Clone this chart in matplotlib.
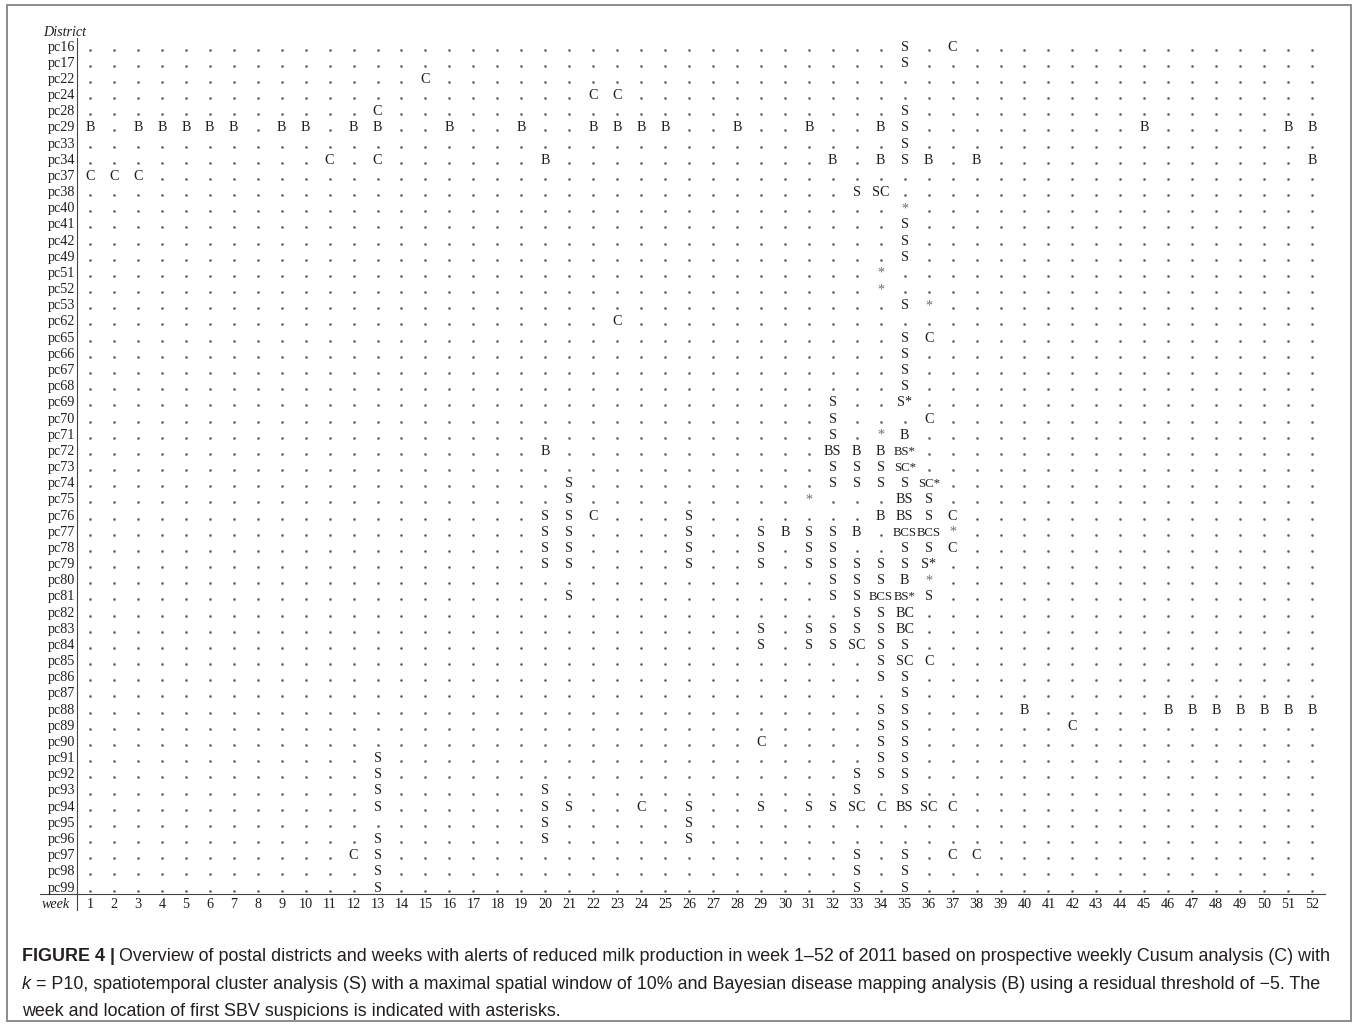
import matplotlib
matplotlib.use("Agg")
import matplotlib.pyplot as plt
from matplotlib.patches import Rectangle

# ---------------- data ----------------
districts = ["pc16", "pc17", "pc22", "pc24", "pc28", "pc29", "pc33", "pc34", "pc37", "pc38",
             "pc40", "pc41", "pc42", "pc49", "pc51", "pc52", "pc53", "pc62", "pc65", "pc66",
             "pc67", "pc68", "pc69", "pc70", "pc71", "pc72", "pc73", "pc74", "pc75", "pc76",
             "pc77", "pc78", "pc79", "pc80", "pc81", "pc82", "pc83", "pc84", "pc85", "pc86",
             "pc87", "pc88", "pc89", "pc90", "pc91", "pc92", "pc93", "pc94", "pc95", "pc96",
             "pc97", "pc98", "pc99"]
weeks = list(range(1, 53))

# alerts: one entry per labelled cell (district, week, label)
alert_district = [
    "pc16", "pc16",
    "pc17",
    "pc22",
    "pc24", "pc24",
    "pc28", "pc28",
    "pc29", "pc29", "pc29", "pc29", "pc29", "pc29", "pc29", "pc29", "pc29", "pc29", "pc29", "pc29",
    "pc29", "pc29", "pc29", "pc29", "pc29", "pc29", "pc29", "pc29", "pc29", "pc29", "pc29",
    "pc33",
    "pc34", "pc34", "pc34", "pc34", "pc34", "pc34", "pc34", "pc34", "pc34",
    "pc37", "pc37", "pc37",
    "pc38", "pc38",
    "pc40",
    "pc41",
    "pc42",
    "pc49",
    "pc51",
    "pc52",
    "pc53", "pc53",
    "pc62",
    "pc65", "pc65",
    "pc66",
    "pc67",
    "pc68",
    "pc69", "pc69",
    "pc70", "pc70",
    "pc71", "pc71", "pc71",
    "pc72", "pc72", "pc72", "pc72", "pc72",
    "pc73", "pc73", "pc73", "pc73",
    "pc74", "pc74", "pc74", "pc74", "pc74", "pc74",
    "pc75", "pc75", "pc75", "pc75",
    "pc76", "pc76", "pc76", "pc76", "pc76", "pc76", "pc76", "pc76",
    "pc77", "pc77", "pc77", "pc77", "pc77", "pc77", "pc77", "pc77", "pc77", "pc77", "pc77",
    "pc78", "pc78", "pc78", "pc78", "pc78", "pc78", "pc78", "pc78", "pc78",
    "pc79", "pc79", "pc79", "pc79", "pc79", "pc79", "pc79", "pc79", "pc79", "pc79",
    "pc80", "pc80", "pc80", "pc80", "pc80",
    "pc81", "pc81", "pc81", "pc81", "pc81", "pc81",
    "pc82", "pc82", "pc82",
    "pc83", "pc83", "pc83", "pc83", "pc83", "pc83",
    "pc84", "pc84", "pc84", "pc84", "pc84", "pc84",
    "pc85", "pc85", "pc85",
    "pc86", "pc86",
    "pc87",
    "pc88", "pc88", "pc88", "pc88", "pc88", "pc88", "pc88", "pc88", "pc88", "pc88",
    "pc89", "pc89", "pc89",
    "pc90", "pc90", "pc90",
    "pc91", "pc91", "pc91",
    "pc92", "pc92", "pc92", "pc92",
    "pc93", "pc93", "pc93", "pc93",
    "pc94", "pc94", "pc94", "pc94", "pc94", "pc94", "pc94", "pc94", "pc94", "pc94", "pc94", "pc94", "pc94",
    "pc95", "pc95",
    "pc96", "pc96", "pc96",
    "pc97", "pc97", "pc97", "pc97", "pc97", "pc97",
    "pc98", "pc98", "pc98",
    "pc99", "pc99", "pc99",
]
alert_week = [
    35, 37,
    35,
    15,
    22, 23,
    13, 35,
    1, 3, 4, 5, 6, 7, 9, 10, 12, 13, 16, 19,
    22, 23, 24, 25, 28, 31, 34, 35, 45, 51, 52,
    35,
    11, 13, 20, 32, 34, 35, 36, 38, 52,
    1, 2, 3,
    33, 34,
    35,
    35,
    35,
    35,
    34,
    34,
    35, 36,
    23,
    35, 36,
    35,
    35,
    35,
    32, 35,
    32, 36,
    32, 34, 35,
    20, 32, 33, 34, 35,
    32, 33, 34, 35,
    21, 32, 33, 34, 35, 36,
    21, 31, 35, 36,
    20, 21, 22, 26, 34, 35, 36, 37,
    20, 21, 26, 29, 30, 31, 32, 33, 35, 36, 37,
    20, 21, 26, 29, 31, 32, 35, 36, 37,
    20, 21, 26, 29, 31, 32, 33, 34, 35, 36,
    32, 33, 34, 35, 36,
    21, 32, 33, 34, 35, 36,
    33, 34, 35,
    29, 31, 32, 33, 34, 35,
    29, 31, 32, 33, 34, 35,
    34, 35, 36,
    34, 35,
    35,
    34, 35, 40, 46, 47, 48, 49, 50, 51, 52,
    34, 35, 42,
    29, 34, 35,
    13, 34, 35,
    13, 33, 34, 35,
    13, 20, 33, 35,
    13, 20, 21, 24, 26, 29, 31, 32, 33, 34, 35, 36, 37,
    20, 26,
    13, 20, 26,
    12, 13, 33, 35, 37, 38,
    13, 33, 35,
    13, 33, 35,
]
alert_label = [
    "S", "C",
    "S",
    "C",
    "C", "C",
    "C", "S",
    "B", "B", "B", "B", "B", "B", "B", "B", "B", "B", "B", "B",
    "B", "B", "B", "B", "B", "B", "B", "S", "B", "B", "B",
    "S",
    "C", "C", "B", "B", "B", "S", "B", "B", "B",
    "C", "C", "C",
    "S", "SC",
    "*",
    "S",
    "S",
    "S",
    "*",
    "*",
    "S", "*",
    "C",
    "S", "C",
    "S",
    "S",
    "S",
    "S", "S*",
    "S", "C",
    "S", "*", "B",
    "B", "BS", "B", "B", "BS*",
    "S", "S", "S", "SC*",
    "S", "S", "S", "S", "S", "SC*",
    "S", "*", "BS", "S",
    "S", "S", "C", "S", "B", "BS", "S", "C",
    "S", "S", "S", "S", "B", "S", "S", "B", "BCS", "BCS", "*",
    "S", "S", "S", "S", "S", "S", "S", "S", "C",
    "S", "S", "S", "S", "S", "S", "S", "S", "S", "S*",
    "S", "S", "S", "B", "*",
    "S", "S", "S", "BCS", "BS*", "S",
    "S", "S", "BC",
    "S", "S", "S", "S", "S", "BC",
    "S", "S", "S", "SC", "S", "S",
    "S", "SC", "C",
    "S", "S",
    "S",
    "S", "S", "B", "B", "B", "B", "B", "B", "B", "B",
    "S", "S", "C",
    "C", "S", "S",
    "S", "S", "S",
    "S", "S", "S", "S",
    "S", "S", "S", "S",
    "S", "S", "S", "C", "S", "S", "S", "S", "SC", "C", "BS", "SC", "C",
    "S", "S",
    "S", "S", "S",
    "C", "S", "S", "S", "C", "C",
    "S", "S", "S",
    "S", "S", "S",
]
assert len(alert_district) == len(alert_week) == len(alert_label)

caption_bold = "FIGURE 4 |"
caption_line1 = ("Overview of postal districts and weeks with alerts of reduced milk production in "
                 "week 1\u201352 of 2011 based on prospective weekly Cusum analysis (C) with")
caption_line2 = (" = P10, spatiotemporal cluster analysis (S) with a maximal spatial window of 10% and "
                 "Bayesian disease mapping analysis (B) using a residual threshold of \u22125. The")
caption_line3 = "week and location of first SBV suspicions is indicated with asterisks."

# ---------------- figure ----------------
W, H = 1357, 1027
fig = plt.figure(figsize=(W / 100, H / 100), dpi=100)
fig.patch.set_facecolor("white")


def fx(px):
    return px / W


def fy(py):
    return 1 - py / H


# outer frame
fig.add_artist(Rectangle((fx(7), fy(1021)), fx(1351) - fx(7), fy(5) - fy(1021),
                         fill=False, ec="#8c8c8c", lw=1.4, transform=fig.transFigure))

SERIF = "Liberation Serif"
SANS = "Liberation Sans"
FS = 10.2
FS_LONG = 9.2   # three-character cells set a little tighter so neighbours just touch
TXT = "#1e1e1e"

ax = fig.add_axes([fx(77), fy(894), (1325 - 77) / W, (894 - 38) / H])
ax.set_xlim(0.4575, 52.542)
ax.set_ylim(52.433, -0.4947)
ax.axis("off")

row_of = {d: i for i, d in enumerate(districts)}
BASE = 0.28  # baseline offset (rows) below row centre

labelled = set()
for d, w, lab in zip(alert_district, alert_week, alert_label):
    r = row_of[d]
    labelled.add((r, w))
    col = "#6e6e6e" if lab == "*" else TXT
    fs = FS_LONG if len(lab) >= 3 else FS
    ax.text(w, r + BASE, lab, ha="center", va="baseline", fontsize=fs,
            family=SERIF, color=col, clip_on=False)

dot_x, dot_y = [], []
for r, d in enumerate(districts):
    for w in weeks:
        if (r, w) not in labelled:
            dot_x.append(w)
            dot_y.append(r + 0.22)
ax.scatter(dot_x, dot_y, s=3.4, c="#5a5a5a", linewidths=0, clip_on=False)

# row labels
for r, d in enumerate(districts):
    ax.text(0.374, r + BASE, d, ha="right", va="baseline", fontsize=FS,
            family=SERIF, color=TXT, clip_on=False)

# week labels
wk_row = 52.99
for w in weeks:
    ax.text(w, wk_row + BASE, str(w), ha="center", va="baseline", fontsize=FS,
            family=SERIF, color=TXT, clip_on=False)
ax.text(-1.003, wk_row + BASE, "week", ha="left", va="baseline", fontsize=FS,
        family=SERIF, style="italic", color=TXT, clip_on=False)
ax.text(-0.9615, -0.927 + BASE, "District", ha="left", va="baseline", fontsize=FS,
        family=SERIF, style="italic", color=TXT, clip_on=False)

# table rules
ax.plot([0.4575, 0.4575], [-0.4947, 53.42], color="#444444", lw=0.8, clip_on=False)
ax.plot([-1.087, 52.542], [52.433, 52.433], color="#444444", lw=0.8, clip_on=False)

# ---------------- caption ----------------
CFS = 12.85
CCOL = "#231f20"
fig.canvas.draw()
renderer = fig.canvas.get_renderer()

t_bold = fig.text(fx(22), fy(961), caption_bold, fontsize=CFS, family=SANS,
                  weight="bold", color=CCOL, va="baseline", ha="left")
bb = t_bold.get_window_extent(renderer)
fig.text(bb.x1 / W + 4 / W, fy(961), caption_line1, fontsize=CFS, family=SANS,
         color=CCOL, va="baseline", ha="left")

t_k = fig.text(fx(22), fy(989), "k", fontsize=CFS, family=SANS, style="italic",
               color=CCOL, va="baseline", ha="left")
bk = t_k.get_window_extent(renderer)
fig.text(bk.x1 / W, fy(989), caption_line2, fontsize=CFS, family=SANS,
         color=CCOL, va="baseline", ha="left")

fig.text(fx(22), fy(1016), caption_line3, fontsize=CFS, family=SANS,
         color=CCOL, va="baseline", ha="left")

fig.savefig("out.png", dpi=100, facecolor="white")
